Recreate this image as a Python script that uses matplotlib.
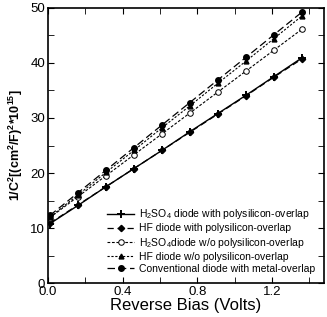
import matplotlib
matplotlib.use("Agg")
import matplotlib.pyplot as plt
from matplotlib.ticker import MultipleLocator

plt.rcParams["font.family"] = ["Liberation Sans", "DejaVu Sans"]
plt.rcParams["mathtext.fontset"] = "custom"
plt.rcParams["mathtext.rm"] = "Liberation Sans"
plt.rcParams["mathtext.bf"] = "Liberation Sans:bold"

# --- datos ---
bias = [0.01, 0.16, 0.31, 0.46, 0.61, 0.76, 0.91, 1.06, 1.21, 1.36]

h2so4_poly = [10.8, 14.1, 17.5, 20.8, 24.1, 27.5, 30.8, 34.1, 37.5, 40.9]
hf_poly = [10.9, 14.2, 17.5, 20.8, 24.1, 27.4, 30.7, 34.0, 37.4, 40.7]
h2so4_nopoly = [11.9, 15.7, 19.5, 23.3, 27.1, 30.9, 34.7, 38.5, 42.3, 46.1]
hf_nopoly = [12.0, 16.0, 20.1, 24.1, 28.2, 32.2, 36.3, 40.3, 44.4, 48.5]
conventional = [12.3, 16.4, 20.5, 24.6, 28.7, 32.8, 36.9, 41.0, 45.1, 49.2]

etiquetas = [
    r"H$_2$SO$_4$ diode with polysilicon-overlap",
    "HF diode with polysilicon-overlap",
    r"H$_2$SO$_4$diode w/o polysilicon-overlap",
    "HF diode w/o polysilicon-overlap",
    "Conventional diode with metal-overlap",
]

fig = plt.figure(figsize=(3.27, 3.17), dpi=100)
ax = fig.add_axes([0.147, 0.107, 0.844, 0.868])

ax.plot(bias, h2so4_poly, "k-", marker="+", markersize=6, mew=1.4, lw=1.0,
        label=etiquetas[0])
ax.plot(bias, hf_poly, "k", ls=(0, (5, 3)), marker="D", markersize=3.2, lw=0.9,
        label=etiquetas[1])
ax.plot(bias, h2so4_nopoly, "k", ls=(0, (2.5, 1.5)), marker="o", mfc="white",
        markersize=4, mew=0.7, lw=0.8, label=etiquetas[2])
ax.plot(bias, hf_nopoly, "k", ls=(0, (2, 1.5)), marker="^", markersize=3.5,
        lw=0.8, label=etiquetas[3])
ax.plot(bias, conventional, "k", ls=(0, (6, 3)), marker="o", markersize=4,
        lw=0.9, label=etiquetas[4])

ax.set_xlim(0, 1.48)
ax.set_ylim(0, 50)
ax.xaxis.set_major_locator(MultipleLocator(0.4))
ax.xaxis.set_minor_locator(MultipleLocator(0.2))
ax.yaxis.set_major_locator(MultipleLocator(10))
ax.yaxis.set_minor_locator(MultipleLocator(5))
ax.xaxis.set_major_formatter(matplotlib.ticker.FormatStrFormatter("%.1f"))
ax.tick_params(which="both", direction="in", top=True, right=True,
               labelsize=9.5, pad=2)
ax.tick_params(which="major", length=4)
ax.tick_params(which="minor", length=4)
for s in ax.spines.values():
    s.set_linewidth(1.2)

ax.set_xlabel("Reverse Bias (Volts)", fontsize=12, labelpad=0)
ax.set_ylabel(r"$\mathbf{1/C^2[(cm^2/F)^2}$*$\mathbf{10^{15}]}$",
              fontsize=9, fontweight="bold", labelpad=4)

ax.legend(loc="lower right", frameon=False, fontsize=7.5, handlelength=2.6,
          handletextpad=0.4, labelspacing=0.2, borderaxespad=0.5)

fig.savefig("out.png", dpi=100)
